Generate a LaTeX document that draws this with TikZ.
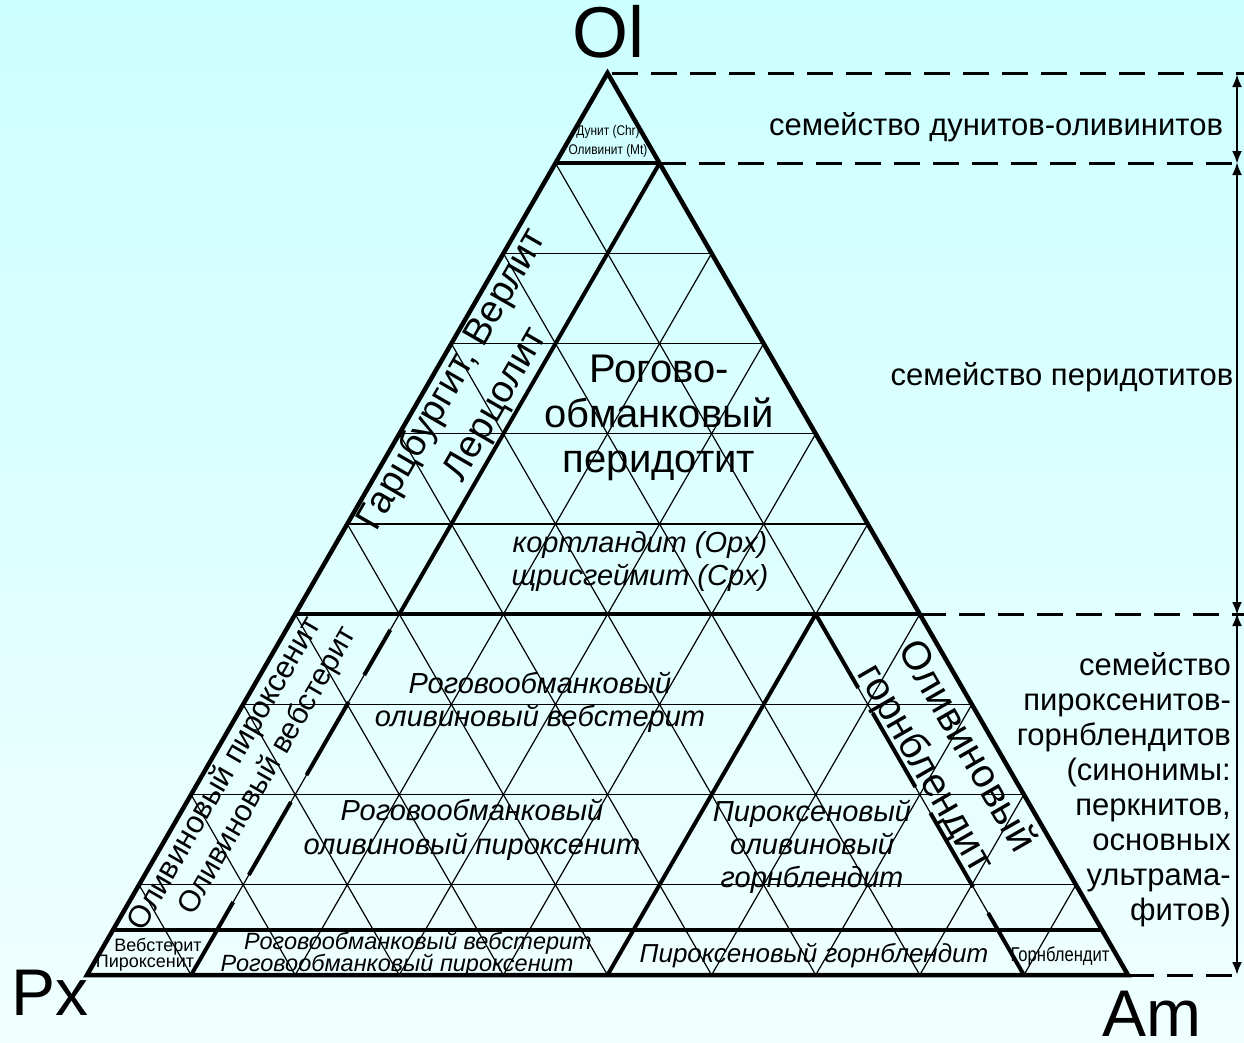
\documentclass[tikz,border=0pt]{standalone}
\usepackage{fontspec}
\setmainfont{Liberation Sans}
\usetikzlibrary{arrows.meta}
\definecolor{bgtop}{RGB}{204,255,255}
\definecolor{bgbot}{RGB}{240,255,255}
\begin{document}
\begin{tikzpicture}[x=1pt,y=-1pt,
  gridline/.style={line width=1.2pt},
  thickline/.style={line width=4pt},
  triborder/.style={line width=4.5pt, line join=miter},
  famdash/.style={line width=3pt, dash pattern=on 26pt off 13pt},
  famarrow/.style={line width=2.5pt, {Latex[length=13pt,width=10pt]}-{Latex[length=13pt,width=10pt]}},
  lbl/.style={inner sep=0pt},
  big/.style={lbl, font=\fontsize{40}{45}\selectfont},
  fam/.style={lbl, font=\fontsize{31}{35}\selectfont},
  ital/.style={lbl, font=\fontsize{29}{33}\selectfont\itshape},
  tiny/.style={lbl, font=\fontsize{14}{19}\selectfont, xscale=0.85},
  small/.style={lbl, font=\fontsize{18}{15}\selectfont},
  corner/.style={lbl, font=\fontsize{66}{66}\selectfont}
]
\shade[top color=bgtop, bottom color=bgbot] (0,0) rectangle (1244,1042);
\path[use as bounding box] (0,0) rectangle (1244,1042);

\begin{scope}[shift={(87,975)}, x={(1041pt,0pt)}, y={(520.5pt,902pt)}]
  % thin grid
  \foreach \k in {1,...,9} {
    \draw[gridline] (0,\k/10) -- ({1-\k/10},\k/10);
    \draw[gridline] (\k/10,0) -- (\k/10,{1-\k/10});
    \draw[gridline] ({1-\k/10},0) -- (0,{1-\k/10});
  }
  % thick boundaries
  \draw[thickline] (0,0.9) -- (0.1,0.9);
  \draw[thickline] (0,0.4) -- (0.6,0.4);
  \draw[thickline] (0,0.05) -- (0.95,0.05);
  \draw[thickline] (0.1,0.9) -- (0.1,0.4);
  \draw[thickline] (0.1,0.3825) -- (0.1,0.3326);
  \draw[thickline] (0.1,0.3027) -- (0.1,0.2217);
  \draw[thickline] (0.1,0.1918) -- (0.1,0.1109);
  \draw[thickline] (0.1,0.0809) -- (0.1,0);
  \draw[thickline] (0.5,0) -- (0.5,0.4);
  \draw[thickline] ({0.9-0.4},0.4) -- ({0.9-0.3182},0.3182);
  \draw[thickline] ({0.9-0.2905},0.2905) -- ({0.9-0.2084},0.2084);
  \draw[thickline] ({0.9-0.1796},0.1796) -- ({0.9-0.0976},0.0976);
  \draw[thickline] ({0.9-0.0687},0.0687) -- (0.9,0);
  \draw[triborder] (0,0) -- (1,0) -- (0,1) -- cycle;
\end{scope}

% family separators
\draw[famdash] (612,73) -- (1244,73);
\draw[famdash] (660,163) -- (1244,163);
\draw[famdash] (920,614) -- (1244,614);
\draw[famdash] (1128,975) -- (1244,975);
\coordinate (a1) at (1237,74);
\coordinate (a2) at (1237,163);
\coordinate (a3) at (1237,614);
\coordinate (a4) at (1237,975);
\draw[famarrow] (a1) -- ([yshift=-1pt]a2);
\draw[famarrow] ([yshift=1pt]a2) -- ([yshift=-1pt]a3);
\draw[famarrow] ([yshift=1pt]a3) -- (a4);

% corner labels
\node[lbl, font=\fontsize{72}{72}\selectfont] (ol) at (608,32) {Ol};
\node[corner] (px) at (50,993) {Px};
\node[corner] (am) at (1152,1014) {Am};

% family labels
\node[fam] (fdun) at (996,127) {семейство дунитов-оливинитов};
\node[fam] (fper) at (1062,377) {семейство перидотитов};
\node[fam, align=right, anchor=east] (fpyr) at (1231,790) {семейство\\пироксенитов-\\горнблендитов\\(синонимы:\\перкнитов,\\основных\\ультрама-\\фитов)};

% field labels
\node[tiny, align=center] (dun) at (608,141) {Дунит (Chr)\\Оливинит (Mt)};
\node[lbl, font=\fontsize{38}{38}\selectfont, rotate=60] (garz) at (453,380) {Гарцбургит, Верлит};
\node[lbl, font=\fontsize{38}{38}\selectfont, rotate=60] (lerz) at (497,405) {Лерцолит};
\node[big, align=center] (hbper) at (659,418) {Рогово-\\обманковый\\перидотит};
\node[ital, align=center] (kort) at (640,561) {кортландит (Opx)\\щрисгеймит (Cpx)};
\node[ital, align=center] (hbolweb) at (540,702) {Роговообманковый\\оливиновый вебстерит};
\node[ital, align=center, font=\fontsize{29}{34}\selectfont\itshape] (hbolpyr) at (472,830) {Роговообманковый\\оливиновый пироксенит};
\node[ital, align=center] (pyrolhb) at (812,847) {Пироксеновый\\оливиновый\\горнблендит};
\node[lbl, font=\fontsize{40}{40}\selectfont, rotate=-60] (olhb1) at (969,745) {Оливиновый};
\node[lbl, font=\fontsize{40}{40}\selectfont, rotate=-60] (olhb2) at (924,769) {горнблендит};
\node[lbl, font=\fontsize{31}{31}\selectfont, rotate=60] (olpyr) at (225,774) {Оливиновый пироксенит};
\node[lbl, font=\fontsize{30}{30}\selectfont, rotate=60] (olweb) at (268,771) {Оливиновый вебстерит};
\node[small] (web) at (158,947) {Вебстерит};
\node[small] (pyr) at (145,963) {Пироксенит};
\node[lbl, font=\fontsize{23.5}{24}\selectfont\itshape] (hbweb) at (418,943) {Роговообманковый вебстерит};
\node[lbl, font=\fontsize{23.5}{24}\selectfont\itshape] (hbpyr) at (397,965) {Роговообманковый пироксенит};
\node[lbl, font=\fontsize{26}{26}\selectfont\itshape] (pyrhb) at (814,956) {Пироксеновый горнблендит};
\node[lbl, font=\fontsize{20}{20}\selectfont, xscale=0.83] (hb) at (1060,956) {Горнблендит};
\end{tikzpicture}
\end{document}
